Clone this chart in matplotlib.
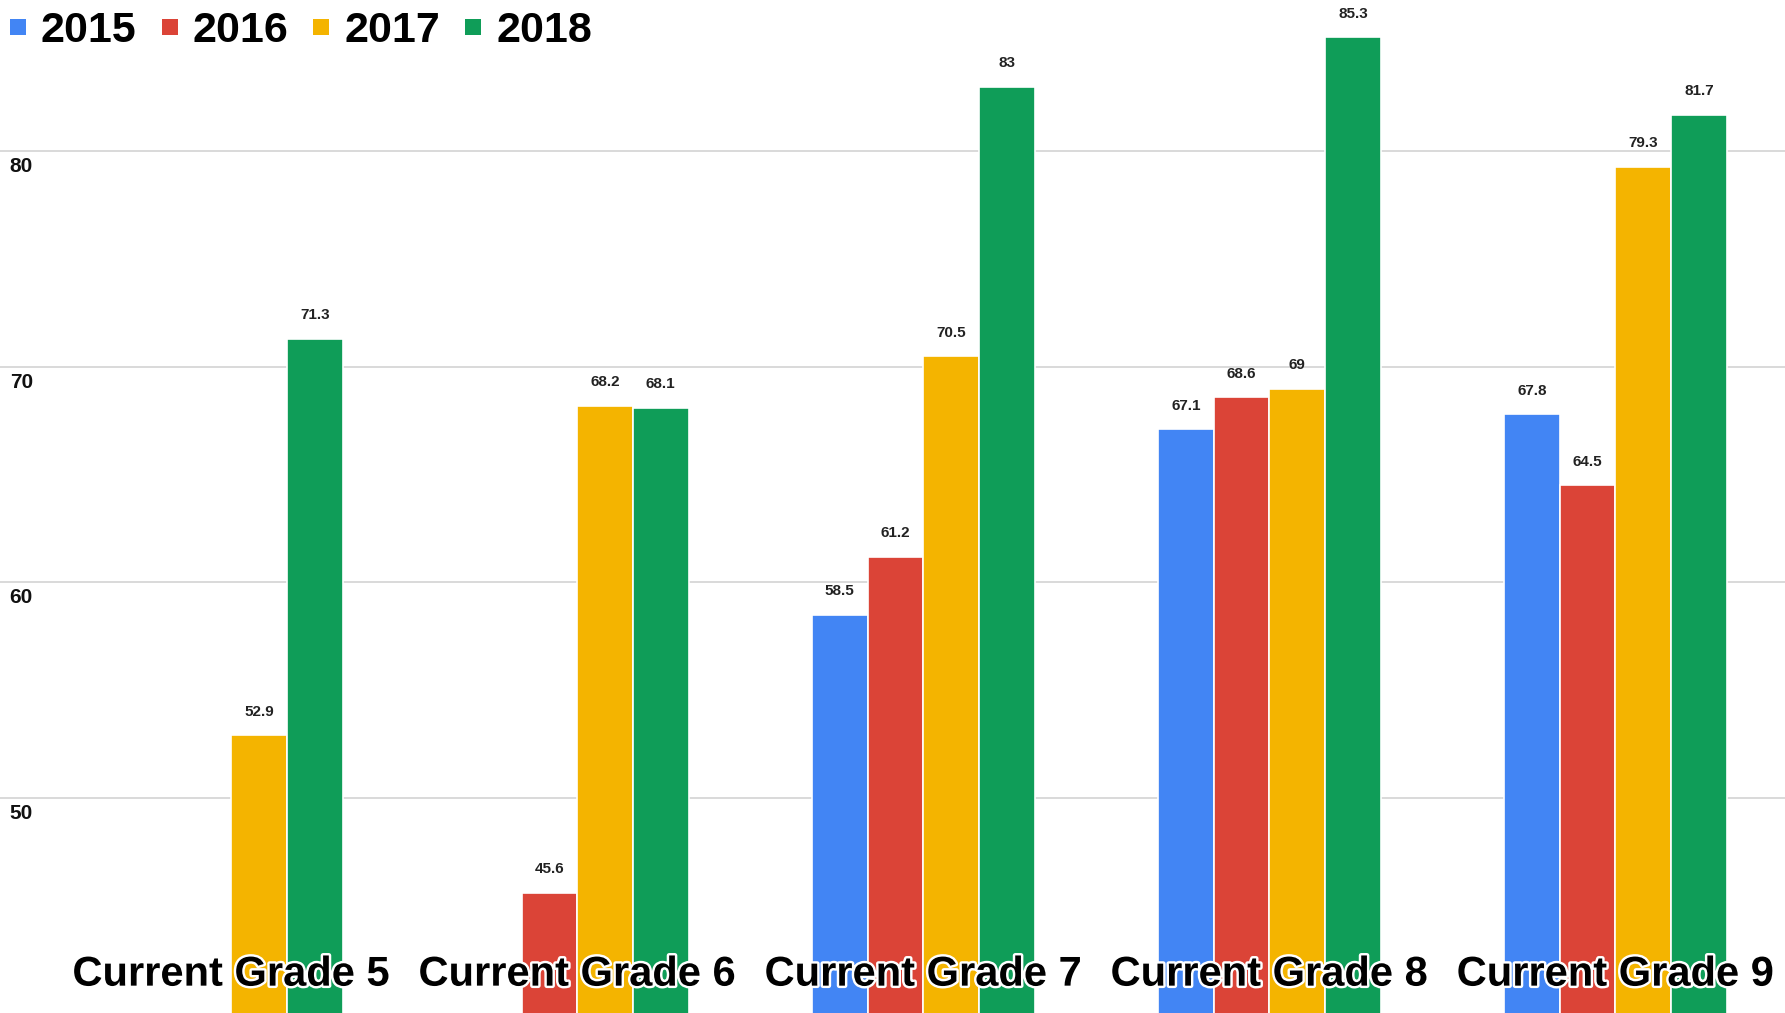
import matplotlib
matplotlib.use("Agg")
import matplotlib.pyplot as plt
import matplotlib.patheffects as pe
import numpy as np
from matplotlib.patches import Patch

CATEGORIES = ["Current Grade 5", "Current Grade 6", "Current Grade 7", "Current Grade 8", "Current Grade 9"]
YEARS = ["2015", "2016", "2017", "2018"]
VALUES_2015 = [None, None, 58.5, 67.1, 67.8]
VALUES_2016 = [None, 45.6, 61.2, 68.6, 64.5]
VALUES_2017 = [52.9, 68.2, 70.5, 69.0, 79.3]
VALUES_2018 = [71.3, 68.1, 83.0, 85.3, 81.7]
SERIES = [VALUES_2015, VALUES_2016, VALUES_2017, VALUES_2018]
COLORS = ["#4285F4", "#DB4437", "#F4B400", "#0F9D58"]
GRID_TICKS = [50, 60, 70, 80]

plt.rcParams["font.family"] = ["Liberation Sans", "DejaVu Sans"]

fig = plt.figure(figsize=(17.85, 10.13), dpi=100)
ax = fig.add_axes([0, 0, 1, 1])

width = 0.161
x = np.arange(len(CATEGORIES))
for i, (vals, color) in enumerate(zip(SERIES, COLORS)):
    offset = (i - 1.5) * width
    for xi, v in zip(x, vals):
        if v is None:
            continue
        ax.bar(xi + offset, v, width=width, color=color, edgecolor="white",
               linewidth=1.2, zorder=2)
        ax.annotate(f"{v:g}", (xi + offset, v), xytext=(0, 17), textcoords="offset points",
                    ha="center", va="center", fontsize=11, fontweight="bold", color="#222222")

ax.set_xlim(-0.668, 4.49)
ax.set_ylim(40.02, 87.03)
for t in GRID_TICKS:
    ax.axhline(t, color="#d9d9d9", linewidth=1.4, zorder=1)
    ax.annotate(str(t), (0, t), xycoords=("axes fraction", "data"), xytext=(7, -4),
                textcoords="offset points", ha="left", va="top", fontsize=15,
                fontweight="bold", color="#111111")

for xi, name in zip(x, CATEGORIES):
    ax.text(xi, 0.027, name, transform=ax.get_xaxis_transform(), ha="center", va="baseline",
            fontsize=30, fontweight="bold", color="black", zorder=5,
            path_effects=[pe.withStroke(linewidth=3.5, foreground="white")])

# square legend swatches
handles = [Patch(facecolor=c, edgecolor="none", label=y) for c, y in zip(COLORS, YEARS)]
ax.legend(handles=handles, loc="upper left", bbox_to_anchor=(0.0, 0.9987), ncol=4,
          frameon=False, prop={"size": 31, "weight": "bold"}, handlelength=0.37,
          handleheight=0.19, handletextpad=0.35, columnspacing=0.58, borderaxespad=0,
          borderpad=0.23)

ax.axis("off")
fig.savefig("out.png", dpi=100, facecolor="white")
